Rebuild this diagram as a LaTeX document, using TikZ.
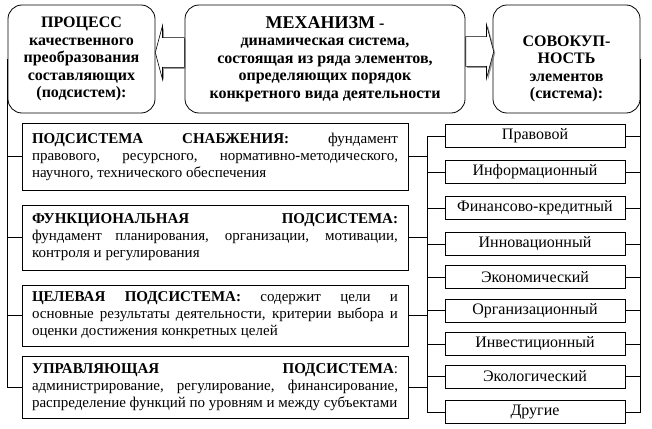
\documentclass[tikz,border=0pt]{standalone}
\usepackage{fontspec}
\setmainfont{Liberation Serif}
\usetikzlibrary{shapes.arrows,shadows}

\tikzset{
  topbox/.style={draw, line width=0.8pt, rounded corners=14pt, fill=white,
    align=center, inner sep=0pt, minimum height=108pt,
    font=\bfseries\fontsize{16}{17.5}\selectfont},
  podbox/.style={draw, line width=0.8pt, text width=366pt, inner xsep=10pt,
    inner ysep=0pt, align=justify, font=\fontsize{15}{17}\selectfont},
  vidbox/.style={draw, line width=0.8pt, minimum width=180pt,
    minimum height=23pt, inner sep=0pt, font=\fontsize{16}{17}\selectfont},
  blockarrow/.style={single arrow, draw, line width=0.6pt, fill=white,
    inner xsep=0pt, inner ysep=14.5pt, single arrow head extend=12pt,
    single arrow tip angle=150,
    drop shadow={shadow xshift=1.5pt, shadow yshift=-1.5pt, fill=gray, opacity=.8}}
}

\begin{document}
\begin{tikzpicture}[x=1pt, y=-1pt]
    \useasboundingbox (0,0) rectangle (652,428);

    \node[topbox, minimum width=147pt] (proc_name) at (81.5,59)
        {ПРОЦЕСС\\качественного\\преобразования\\составляющих\\(подсистем):};
    \node[topbox, minimum width=280pt] (mech_name) at (325,59)
        {{\fontsize{18}{21}\selectfont МЕХАНИЗМ} -\\динамическая система,\\состоящая из ряда элементов,\\определяющих порядок\\конкретного вида деятельности};
    \node[topbox, minimum width=147pt] (sov_name) at (566.5,59)
        {\rule{0pt}{30pt}СОВОКУП-\\НОСТЬ\\элементов\\(система):};

    \node[blockarrow, shape border rotate=180, minimum height=29pt, anchor=tail]
        (arr_proc) at ([yshift=6.5pt]mech_name.west) {};
    \node[blockarrow, minimum height=28pt, anchor=tail]
        (arr_sov) at ([yshift=7.5pt]mech_name.east) {};

    \node[podbox, minimum height=67pt] (supply_name) at (215,156.5)
        {\textbf{ПОДСИСТЕМА СНАБЖЕНИЯ:} фундамент\linebreak правового, ресурсного, нормативно-методического,\linebreak научного, технического обеспечения};
    \node[podbox, minimum height=65pt] (func_name) at (215,237.5)
        {\textbf{ФУНКЦИОНАЛЬНАЯ ПОДСИСТЕМА:}\linebreak фундамент планирования, организации, мотивации,\linebreak контроля и регулирования};
    \node[podbox, minimum height=61pt] (target_name) at (215,315.5)
        {\textbf{ЦЕЛЕВАЯ ПОДСИСТЕМА:} содержит цели и\linebreak основные результаты деятельности, критерии выбора и\linebreak оценки достижения конкретных целей};
    \node[podbox, minimum height=62pt] (control_name) at (215,387)
        {\textbf{УПРАВЛЯЮЩАЯ ПОДСИСТЕМА}:\linebreak администрирование, регулирование, финансирование,\linebreak распределение функций по уровням и между субъектами};

    \node[vidbox] (legal_name) at (535,136) {Правовой};
    \node[vidbox] (info_name) at (535,172) {Информационный};
    \node[vidbox] (fin_name) at (535,208) {Финансово-кредитный};
    \node[vidbox] (innov_name) at (535,244) {Инновационный};
    \node[vidbox] (econ_name) at (535,277) {Экономический};
    \node[vidbox] (org_name) at (535,310.5) {Организационный};
    \node[vidbox] (invest_name) at (535,344) {Инвестиционный};
    \node[vidbox] (eco_name) at (535,376.5) {Экологический};
    \node[vidbox] (other_name) at (535,412) {Другие};

    \coordinate (bus) at (427,136);

    \draw[line width=0.8pt]
        (proc_name.west) |- (supply_name.west)
        (proc_name.west) |- (func_name.west)
        (proc_name.west) |- (target_name.west)
        (proc_name.west) |- (control_name.west);

    \draw[line width=0.8pt]
        (sov_name.east) |- (legal_name.east)
        (sov_name.east) |- (info_name.east)
        (sov_name.east) |- (fin_name.east)
        (sov_name.east) |- (innov_name.east)
        (sov_name.east) |- (econ_name.east)
        (sov_name.east) |- (org_name.east)
        (sov_name.east) |- (invest_name.east)
        (sov_name.east) |- (eco_name.east)
        (sov_name.east) |- (other_name.east);

    \path[line width=0.8pt]
        (bus |- legal_name.west) edge (bus |- other_name.west)
        (supply_name.east) edge (bus |- supply_name.east)
        (func_name.east) edge (bus |- func_name.east)
        (target_name.east) edge (bus |- target_name.east)
        (control_name.east) edge (bus |- control_name.east)
        (bus |- legal_name.west) edge (legal_name.west)
        (bus |- info_name.west) edge (info_name.west)
        (bus |- fin_name.west) edge (fin_name.west)
        (bus |- innov_name.west) edge (innov_name.west)
        (bus |- econ_name.west) edge (econ_name.west)
        (bus |- org_name.west) edge (org_name.west)
        (bus |- invest_name.west) edge (invest_name.west)
        (bus |- eco_name.west) edge (eco_name.west)
        (bus |- other_name.west) edge (other_name.west);
\end{tikzpicture}
\end{document}
